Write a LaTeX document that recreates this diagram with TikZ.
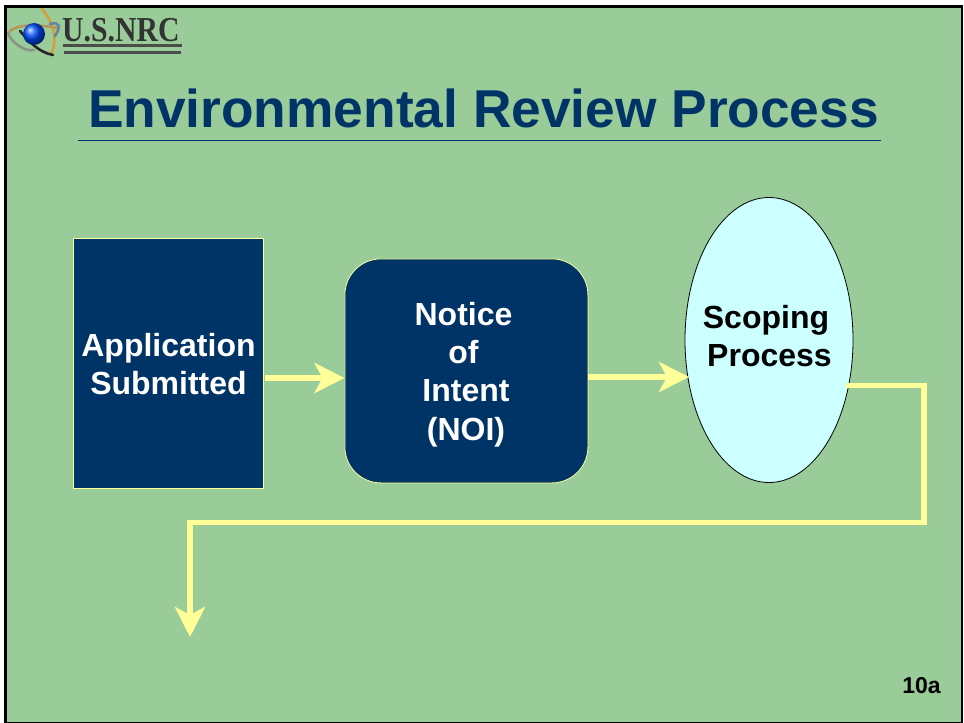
\documentclass[tikz,border=0pt]{standalone}
\usepackage{fontspec}
\setmainfont{Liberation Sans}
\newfontfamily\logoserif{Liberation Serif}
\usetikzlibrary{arrows.meta,shapes.geometric}
\definecolor{bgG}{RGB}{153,204,153}
\definecolor{navy}{RGB}{0,51,102}
\definecolor{yel}{RGB}{255,255,153}
\definecolor{cyanp}{RGB}{204,255,255}
\tikzset{
 boxtext/.style={font=\bfseries\fontsize{32}{38.3}\selectfont,align=center,text=white},
 flow/.style={draw=yel,line width=5.8pt,-{Stealth[length=30pt,width=30pt,inset=8pt]}},
 orbit/.style={line width=2.6pt,line cap=round},
}
\begin{document}
\begin{tikzpicture}[x=1pt,y=-1pt,line cap=butt]
\useasboundingbox (0,0) rectangle (964,723);
\fill[white] (0,0) rectangle (964,723);
\begin{scope}
\clip (0,0) rectangle (964,723);
\draw[fill=bgG,draw=black,line width=2.6pt] (5.2,6.5) rectangle (962,723.5);
\end{scope}
% logo
\draw[orbit,color=orange!60!bgG] (42,9) .. controls (54,22) and (58,42) .. (51,54);
\draw[orbit,color=brown!70!bgG] (8,33) .. controls (15,24) and (35,24) .. (58,28);
\draw[orbit,color=gray!70!bgG] (8,33) .. controls (12,44) and (26,52) .. (34,50);
\draw[orbit,color=black!85] (20,31) .. controls (30,42) and (38,52) .. (53,55);
\draw[orbit,color=navy!60] (50,24) .. controls (60,21) and (61,27) .. (55,36);
\shade[ball color=blue!70!cyan] (34,34) circle (11);
\node[inner sep=0,font=\logoserif\bfseries\fontsize{35}{35}\selectfont,text=black!80,anchor=west,xscale=.85] (logotext) at (62,30) {U.S.NRC};
\fill[black!70] (63,43.5) rectangle (182,47);
\fill[black!70] (64,51) rectangle (181,54);
% title
\node[inner sep=0,font=\bfseries\fontsize{53.3}{53.3}\selectfont,text=navy] (title) at (483.5,108) {Environmental Review Process};
\draw[navy,line width=.8pt] (78,140.5) -- (881,140.5);
% shapes
\node[draw=yel,fill=navy,line width=.8pt,minimum width=190pt,minimum height=250pt,inner sep=0,anchor=north west] (app) at (73,238) {};
\node[boxtext] at (168.5,364) {Application\\Submitted};
\node[draw=yel,fill=navy,line width=.8pt,rounded corners=36pt,minimum width=243pt,minimum height=224pt,inner sep=0,anchor=north west] (noi) at (344.5,258.5) {};
\node[boxtext] at (463.5,374.5) {Notice\hspace{8pt}\\of\hspace{10pt}\\\hspace{5pt}Intent\\\hspace{5pt}(NOI)};
\node[ellipse,draw=black,fill=cyanp,line width=.8pt,minimum width=168pt,minimum height=285pt,inner sep=0] (scope) at (769,340) {};
\node[boxtext,text=black] at (766,336) {Scoping\hspace{7pt}\\\hspace{7pt}Process};
% connectors
\coordinate (a1) at (265,378);
\draw[flow] (a1) -- (a1-|noi.west);
\coordinate (a2) at (588,377);
\draw[flow] (a2) -- (689,377);
\coordinate (c1) at (846,385.5);
\coordinate (c2) at (924,385.5);
\coordinate (c3) at (924,522.5);
\coordinate (c4) at (190,522.5);
\coordinate (c5) at (190,637);
\draw[flow] (c1) -- (c2) -- (c3) -- (c4) -- (c5);
\node[inner sep=0,font=\bfseries\fontsize{23}{23}\selectfont,text=black] (pg) at (921.5,686) {10a};
\end{tikzpicture}
\end{document}
